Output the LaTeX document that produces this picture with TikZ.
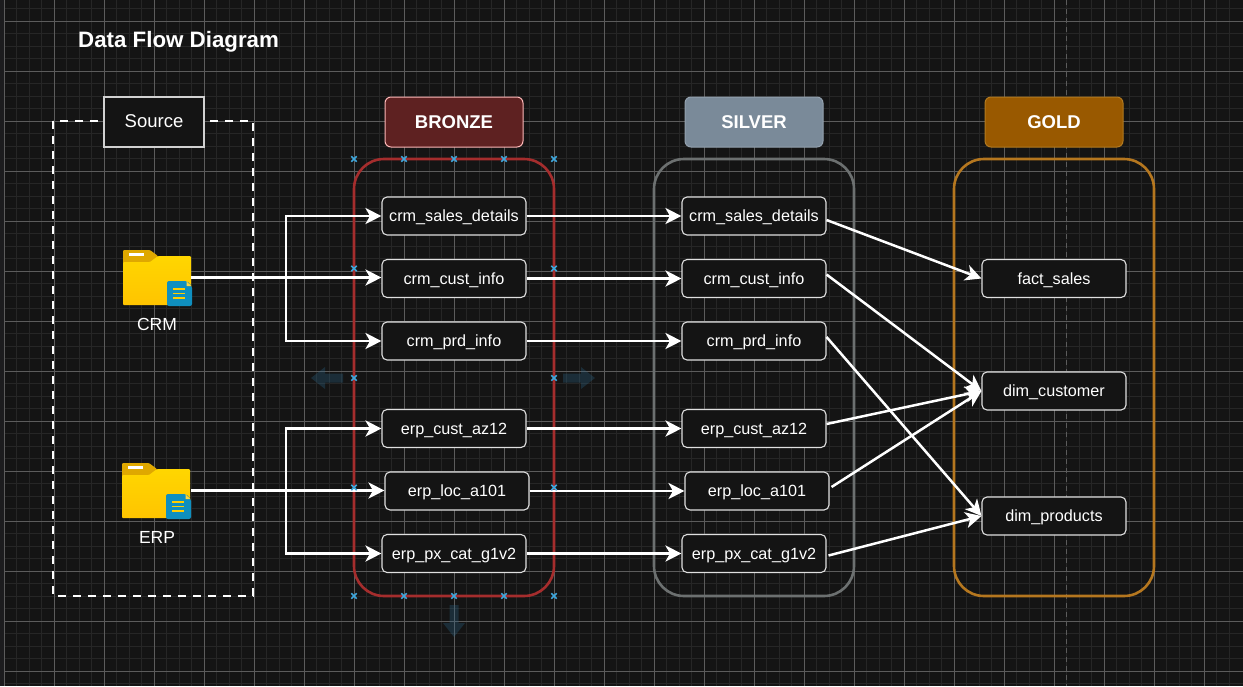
\documentclass[tikz,border=0pt]{standalone}
\usepackage{fontspec}
\setmainfont{Liberation Sans}
\usetikzlibrary{arrows.meta}
\definecolor{canvas}{HTML}{141414}
\definecolor{gridminor}{HTML}{262626}
\definecolor{gridmajor}{HTML}{5C5C5C}
\definecolor{marker}{HTML}{3FA7DC}
\def\rows{
    crm\_sales\_details/0/216,
    crm\_cust\_info/0/278.5,
    crm\_prd\_info/0/341,
    erp\_cust\_az12/0/428.5,
    erp\_loc\_a101/3/491,
    erp\_px\_cat\_g1v2/0/553.5
}
\tikzset{
    folder/.pic={
        \fill[rounded corners=1pt,fill={rgb,255:red,223;green,168;blue,0}]
            (0,0) -- (27,0) -- (35,6) -- (35,14) -- (0,14) -- cycle;
        \shade[rounded corners=1pt,top color={rgb,255:red,255;green,214;blue,0},bottom color={rgb,255:red,255;green,196;blue,0}]
            (0,12) -- (27,12) -- (35,6) -- (68,6) -- (68,55) -- (0,55) -- cycle;
        \fill[white] (6,3) rectangle (21,6);
        \fill[rounded corners=2pt,fill={rgb,255:red,15;green,143;blue,191}]
            (44,31) -- (64,31) -- (69,36) -- (69,56) -- (44,56) -- cycle;
        \fill[fill={rgb,255:red,255;green,214;blue,60}] (63.5,31.5) -- (68.5,36) -- (63.5,36) -- cycle;
        \foreach \h in {39,43.5,48}
            \fill[fill={rgb,255:red,255;green,205;blue,0}] (50,\h-.9) rectangle (62,\h+.9);
    },
    fadearrow/.pic={
        \fill[fill={rgb,255:red,45;green,105;blue,140},fill opacity=.3]
            (0,-4.5) -- (18,-4.5) -- (18,-11) -- (32,0) -- (18,11) -- (18,4.5) -- (0,4.5) -- cycle;
    }
}

\begin{document}
\begin{tikzpicture}[
    x=1pt, y=-1pt,
    minor/.style={draw=gridminor, line width=1pt},
    major/.style={draw=gridmajor, line width=1pt},
    layer/.style={draw, line width=2.6pt, rounded corners=30pt},
    tablebox/.style={draw=white!88!black, fill=canvas, line width=1.1pt, rounded corners=5pt, minimum width=144pt, minimum height=38pt, inner sep=0pt, text height=13pt, text depth=2pt, text=white, font=\fontsize{16.2}{18}\selectfont},
    header/.style={line width=1pt, rounded corners=6pt, minimum width=138pt, minimum height=50pt, inner sep=0pt, text=white, font=\fontsize{18.5}{20}\selectfont\bfseries},
    caption/.style={text=white, inner sep=0pt, font=\fontsize{17.5}{20}\selectfont},
    flow/.style={draw=white, line width=2.5pt, -{Stealth[length=16pt,width=16pt,inset=4.5pt]}}
]
  \useasboundingbox (0,0) rectangle (1243,686);
  \fill[canvas] (0,0) rectangle (1243,686);
  \fill[fill={rgb,255:red,28;green,28;blue,30}] (0,0) rectangle (4.3,686);

  % grid
  \foreach \k in {0,...,98}
    \draw[minor] ({4.3+12.5*\k},0) -- ({4.3+12.5*\k},686);
  \foreach \k in {0,...,54}
    \draw[minor] (4.3,{8.8+12.5*\k}) -- (1243,{8.8+12.5*\k});
  \foreach \k in {0,...,24}
    \draw[major] ({4.3+50*\k},0) -- ({4.3+50*\k},686);
  \foreach \k in {0,...,13}
    \draw[major] (4.3,{21.3+50*\k}) -- (1243,{21.3+50*\k});
  \draw[draw=gridmajor, line width=1pt, dash pattern=on 5pt off 4pt] (1066.5,0) -- (1066.5,686);

  % layers
  \draw[draw=white, line width=2.8pt, dash pattern=on 8pt off 7pt] (53,121) rectangle (253,596);
  \draw[layer, draw={rgb,255:red,165;green,45;blue,45}] (354,159) rectangle (554,596);
  \draw[layer, draw={rgb,255:red,108;green,112;blue,112}] (654,159) rectangle (854,596);
  \draw[layer, draw={rgb,255:red,181;green,119;blue,31}] (954,159) rectangle (1154,596);

  \node[text=white, anchor=west, inner sep=0pt, font=\fontsize{22.3}{24}\selectfont\bfseries] (title) at (78,42) {Data Flow Diagram};
  \node[draw=white!82!black, fill=canvas, line width=1.2pt, minimum width=100pt, minimum height=50pt, inner sep=0pt, text=white, font=\fontsize{18.5}{20}\selectfont] (source) at (154,122) {\raisebox{1pt}{Source}};
  \node[header, draw=white!72!red, fill={rgb,255:red,94;green,33;blue,33}] (bronze) at (454,122) {BRONZE};
  \node[header, draw={rgb,255:red,148;green,162;blue,175}, fill={rgb,255:red,122;green,138;blue,153}] (silver) at (754,122) {SILVER};
  \node[header, draw={rgb,255:red,178;green,122;blue,32}, fill={rgb,255:red,153;green,89;blue,0}] (gold) at (1054,122) {GOLD};

  % sources
  \node[minimum width=68pt, minimum height=55pt, inner sep=0pt] (crm) at (157,277.5) {};
  \node[minimum width=69pt, minimum height=55pt, inner sep=0pt] (erp) at (156.5,490.5) {};
  \pic at (123,250) {folder};
  \pic at (122,463) {folder};
  \node[caption] (crmlabel) at (157,324) {CRM};
  \node[caption] (erplabel) at (157,537) {ERP};

  % tables
  \node
    foreach \name/\dx/\y [count=\i] in \rows
      [tablebox] (b\i) at (454+\dx,\y) {\name};
  \node
    foreach \name/\dx/\y [count=\i] in \rows
      [tablebox] (s\i) at (754+\dx,\y) {\name};
  \node[tablebox] (g1) at (1054,278.5) {fact\_sales};
  \node[tablebox] (g2) at (1054,391) {dim\_customer};
  \node[tablebox] (g3) at (1054,516) {dim\_products};

  % connectors
  \coordinate (crmbus) at (286,277.5);
  \coordinate (erpbus) at (286,490.5);
  \draw[flow] (crm.east) -- (crmbus) |- (b1.west);
  \draw[flow] (crm.east) -- (b2.west |- crm.east);
  \draw[flow] (crm.east) -- (crmbus) |- (b3.west);
  \draw[flow] (erp.east) -- (erpbus) |- (b4.west);
  \draw[flow] (erp.east) -- (b5.west |- erp.east);
  \draw[flow] (erp.east) -- (erpbus) |- (b6.west);
  \foreach \i in {1,...,6}
    \draw[flow] (b\i.east) -- (s\i.west);
  \draw[flow] ([yshift=-4pt]s1.east) -- (g1.west);
  \draw[flow] ([yshift=4pt]s2.east) -- (g2.west);
  \draw[flow] ([yshift=4pt]s3.east) -- (g3.west);
  \draw[flow] ([yshift=4.5pt]s4.east) -- (g2.west);
  \draw[flow] ([xshift=2pt,yshift=4pt]s5.east) -- (g2.west);
  \draw[flow] ([xshift=2pt,yshift=-2pt]s6.east) -- (g3.west);

  % resize handles
  \foreach \a/\b in {354/159,404/159,454/159,504/159,554/159,354/268.5,554/268.5,354/378,554/378,354/487.5,554/487.5,354/596,404/596,454/596,504/596,554/596}
    \draw[draw=marker, line width=1.7pt] (\a-2.7,\b-2.7) -- (\a+2.7,\b+2.7) (\a-2.7,\b+2.7) -- (\a+2.7,\b-2.7);
  \pic[rotate=180] at (343,378) {fadearrow};
  \pic at (563,378) {fadearrow};
  \pic[rotate=-90] at (454,605) {fadearrow};
\end{tikzpicture}
\end{document}
